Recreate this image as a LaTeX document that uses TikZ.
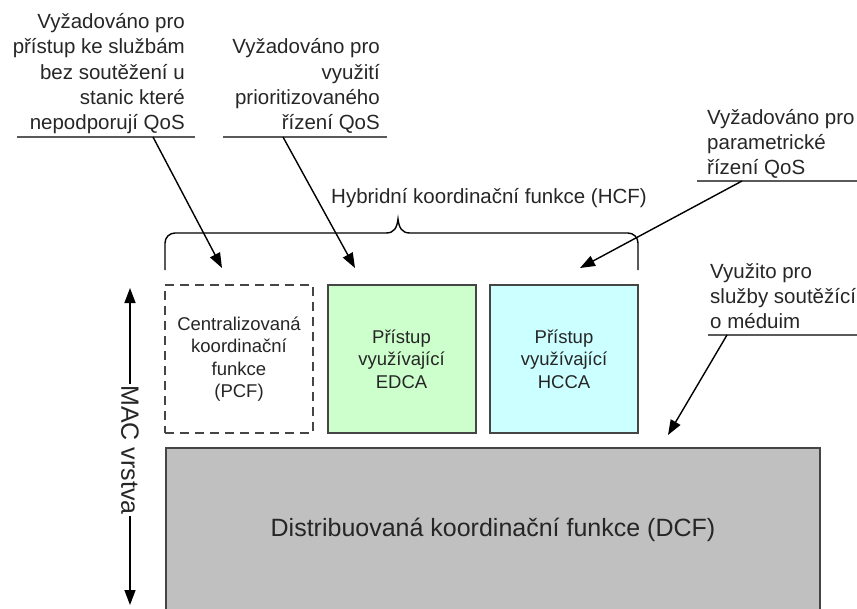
\documentclass[tikz,border=0pt]{standalone}
\usepackage{fontspec}
\setmainfont{Liberation Sans}
\usetikzlibrary{arrows.meta}
\definecolor{ink}{HTML}{262626}
\definecolor{edge}{HTML}{454545}
\definecolor{edcagreen}{HTML}{CCFFCC}
\definecolor{hccacyan}{HTML}{CCFFFF}
\definecolor{dcfgray}{HTML}{C0C0C0}
\definecolor{rulegray}{HTML}{5A5A5A}

\begin{document}
\begin{tikzpicture}[x=1pt,y=-1pt,
  note/.style={font=\fontsize{20.5}{25.3}\selectfont, text=ink, inner sep=0pt, text depth=0pt},
  rule/.style={draw=rulegray, line width=2pt},
  pointer/.style={draw=black, line width=1.4pt, -{Triangle[length=15pt,width=11pt]}},
  funcbox/.style={draw=edge, line width=2pt, minimum width=148pt, minimum height=148pt,
    inner sep=0pt, align=center, text=ink, font=\fontsize{18.5}{22.5}\selectfont},
  biglabel/.style={font=\fontsize{25}{30}\selectfont, text=ink},
]
\useasboundingbox (0,0) rectangle (857,608);

% --- distributed coordination function (bottom layer) ---
\node[draw=edge, line width=2pt, fill=dcfgray, minimum width=654pt, minimum height=175pt,
  anchor=north, inner sep=0pt] (dcf) at (493,447) {};
\node[biglabel, anchor=base] (dcflabel) at (493,536) {Distribuovaná koordinační funkce (DCF)};

% --- access functions ---
\node[funcbox, dashed, dash pattern=on 9pt off 6pt, fill=white] (pcf) at (239,359)
  {Centralizovaná\\koordinační\\funkce\\(PCF)};
\node[funcbox, fill=edcagreen] (edca) at (401.5,359) {Přístup\\využívající\\EDCA};
\node[funcbox, fill=hccacyan] (hcca) at (564,359) {Přístup\\využívající\\HCCA};

% --- hybrid coordination function brace ---
\node[note, anchor=base] (hcf) at (489,203) {Hybridní koordinační funkce (HCF)};
\draw[black, line width=1.4pt]
  (165,270) -- (165,243) arc[start angle=180, end angle=90, radius=10pt]
  -- (386,233) .. controls (394,233) and (397,228) .. (398,219)
  .. controls (399,228) and (402,233) .. (410,233)
  -- (628,233) arc[start angle=90, end angle=0, radius=10pt] -- (638,270);

% --- MAC layer extent ---
\node[biglabel, rotate=-90, inner sep=1pt] (mac) at (130,450) {MAC vrstva};
\coordinate (mactop) at (129,288);
\coordinate (macbot) at (129,605);
\draw[pointer] (mac.west) -- (mac.west |- mactop);
\draw[pointer] (mac.east) -- (mac.east |- macbot);

% --- callouts ---
\node[note, anchor=south east, align=right] (reqpcf) at (185,130)
  {Vyžadováno pro\\přístup ke službám\\bez soutěžení u\\stanic které\\nepodporují QoS};
\coordinate (r1a) at (17,137);  \coordinate (r1b) at (195,137);
\coordinate (s1) at (153,137);  \coordinate (t1) at (222,268);
\draw[rule] (r1a) -- (r1b);
\draw[pointer] (s1) -- (t1);

\node[note, anchor=south east, align=right] (reqedca) at (380,130)
  {Vyžadováno pro\\využití\\prioritizovaného\\řízení QoS};
\coordinate (r2a) at (223,137); \coordinate (r2b) at (387,137);
\coordinate (s2) at (283,137);  \coordinate (t2) at (355,268);
\draw[rule] (r2a) -- (r2b);
\draw[pointer] (s2) -- (t2);

\node[note, anchor=south west, align=left] (reqhcca) at (707,175)
  {Vyžadováno pro\\parametrické\\řízení QoS};
\coordinate (r3a) at (697,181); \coordinate (r3b) at (857,181);
\coordinate (s3) at (742,181);  \coordinate (t3) at (580,268);
\draw[rule] (r3a) -- (r3b);
\draw[pointer] (s3) -- (t3);

\node[note, anchor=south west, align=left] (usedcf) at (710,329)
  {Využito pro\\služby soutěžící\\o méduim};
\coordinate (r4a) at (708,335); \coordinate (r4b) at (857,335);
\coordinate (s4) at (727,335);  \coordinate (t4) at (668,435);
\draw[rule] (r4a) -- (r4b);
\draw[pointer] (s4) -- (t4);
\end{tikzpicture}
\end{document}
